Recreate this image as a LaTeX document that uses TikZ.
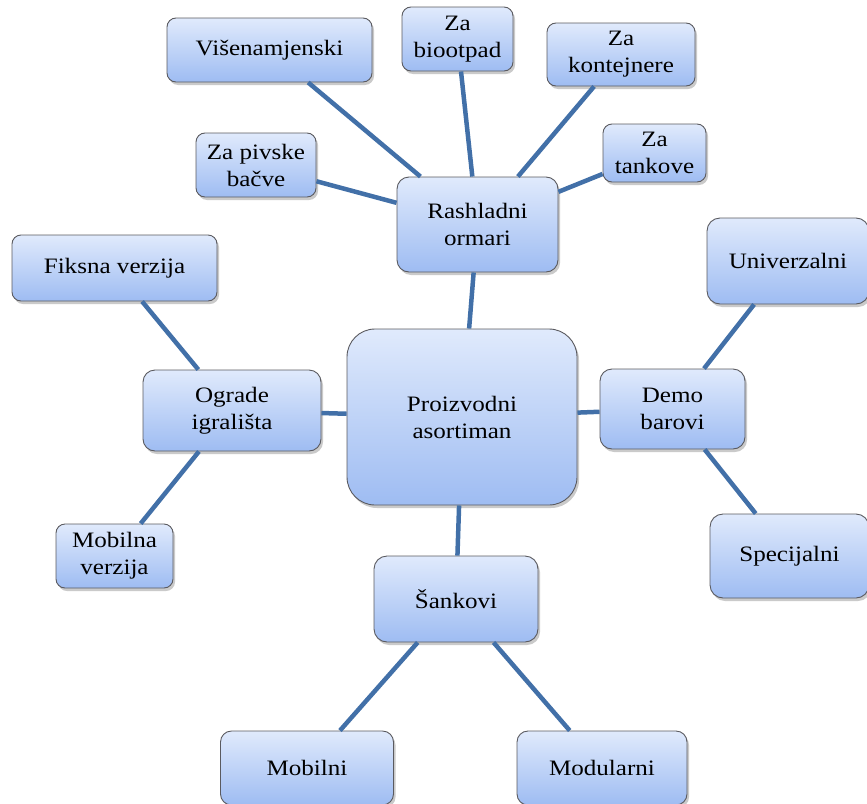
\documentclass[tikz,border=0pt]{standalone}
\usepackage{fontspec}
\setmainfont[FakeStretch=1.14]{Liberation Serif}
\usetikzlibrary{shadows}
\definecolor{linkc}{RGB}{66,112,168}
\definecolor{topc}{RGB}{224,234,252}
\definecolor{botc}{RGB}{158,188,242}
\definecolor{edgec}{RGB}{90,90,95}
\tikzset{
  box/.style={draw=edgec, line width=0.9pt, rounded corners=9pt,
    top color=topc, bottom color=botc, align=center, inner sep=0pt,
    font=\fontsize{22}{27}\selectfont,
    drop shadow={shadow xshift=2pt, shadow yshift=-3pt, opacity=0.35, fill=black!60}},
  link/.style={draw=linkc, line width=4.5pt}
}
\begin{document}
\begin{tikzpicture}[x=1pt,y=-1pt]
\useasboundingbox (0,0) rectangle (867,803);
% links first (drawn behind via layers order: draw nodes after)
\path
 (269.5,50) coordinate (cvis)
 (457.5,39) coordinate (cbio)
 (621,54.5) coordinate (ckont)
 (256,165) coordinate (cpiv)
 (654.5,153) coordinate (ctank)
 (477.5,224.5) coordinate (crash)
 (114.5,268) coordinate (cfiks)
 (788,261) coordinate (cuniv)
 (232,410.5) coordinate (cogr)
 (462,417) coordinate (cproi)
 (672.5,409) coordinate (cdemo)
 (114.5,556) coordinate (cmobv)
 (789.5,556) coordinate (cspec)
 (456,599) coordinate (csank)
 (307,768) coordinate (cmobi)
 (602,768) coordinate (cmodu);

\node[box, minimum width=205pt, minimum height=64pt] (vis) at (cvis) {Višenamjenski};
\node[box, minimum width=111pt, minimum height=64pt] (bio) at (cbio) {Za\\biootpad};
\node[box, minimum width=148pt, minimum height=63pt] (kont) at (ckont) {Za\\kontejnere};
\node[box, minimum width=120pt, minimum height=64pt] (piv) at (cpiv) {Za pivske\\bačve};
\node[box, minimum width=103pt, minimum height=58pt] (tank) at (ctank) {Za\\tankove};
\node[box, minimum width=161pt, minimum height=95pt, rounded corners=12pt] (rash) at (crash) {Rashladni\\ormari};
\node[box, minimum width=205pt, minimum height=66pt] (fiks) at (cfiks) {Fiksna verzija};
\node[box, minimum width=162pt, minimum height=86pt, rounded corners=13pt] (univ) at (cuniv) {Univerzalni};
\node[box, minimum width=178pt, minimum height=81pt, rounded corners=12pt] (ogr) at (cogr) {Ograde\\igrališta};
\node[box, minimum width=230pt, minimum height=176pt, rounded corners=28pt] (proi) at (cproi) {Proizvodni\\asortiman};
\node[box, minimum width=145pt, minimum height=80pt, rounded corners=12pt] (demo) at (cdemo) {Demo\\barovi};
\node[box, minimum width=117pt, minimum height=64pt] (mobv) at (cmobv) {Mobilna\\verzija};
\node[box, minimum width=159pt, minimum height=84pt, rounded corners=13pt] (spec) at (cspec) {Specijalni};
\node[box, minimum width=164pt, minimum height=86pt, rounded corners=13pt] (sank) at (csank) {Šankovi};
\node[box, minimum width=173pt, minimum height=74pt, rounded corners=11pt] (mobi) at (cmobi) {Mobilni};
\node[box, minimum width=170pt, minimum height=74pt, rounded corners=11pt] (modu) at (cmodu) {Modularni};

\draw[link] (vis) -- (rash);
\draw[link] (bio) -- (rash);
\draw[link] (kont) -- (rash);
\draw[link] (piv) -- (rash);
\draw[link] (tank) -- (rash);
\draw[link] (rash) -- (proi);
\draw[link] (fiks) -- (ogr);
\draw[link] (mobv) -- (ogr);
\draw[link] (ogr) -- (proi);
\draw[link] (proi) -- (demo);
\draw[link] (univ) -- (demo);
\draw[link] (spec) -- (demo);
\draw[link] (proi) -- (sank);
\draw[link] (sank) -- (mobi);
\draw[link] (sank) -- (modu);
\end{tikzpicture}
\end{document}
